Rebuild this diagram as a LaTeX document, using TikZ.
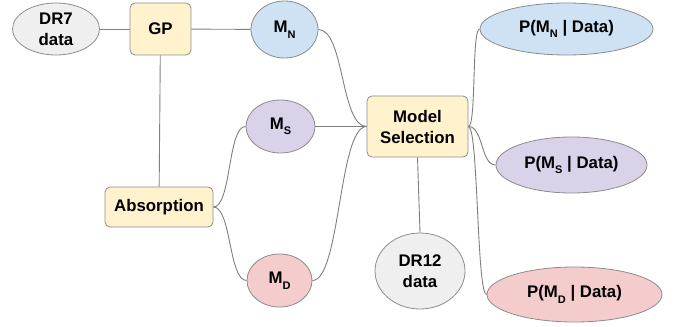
\documentclass[tikz,border=0pt]{standalone}
\usepackage{fontspec}
\setmainfont{Liberation Sans}
\usetikzlibrary{shapes.geometric}

\definecolor{greyfill}{HTML}{EFEFEF}
\definecolor{yellowfill}{HTML}{FFF2CC}
\definecolor{bluefill}{HTML}{CFE2F3}
\definecolor{purplefill}{HTML}{D9D2E9}
\definecolor{pinkfill}{HTML}{F4CCCC}
\definecolor{edgegrey}{HTML}{8C8C8C}
\definecolor{linkgrey}{HTML}{7F7F7F}

% small lowered index, as in M_N
\newcommand{\lowidx}[1]{\raisebox{-5.5pt}{\fontsize{11}{11}\selectfont #1}}

\tikzset{
  base/.style={draw=edgegrey, line width=0.8pt, align=center, inner sep=0pt,
               font=\fontsize{16.8}{21}\selectfont\bfseries},
  oval/.style={base, ellipse},
  box/.style={base, rectangle, rounded corners=5pt, fill=yellowfill},
  link/.style={draw=linkgrey, line width=0.9pt},
}

\begin{document}
\begin{tikzpicture}[x=1pt, y=-1pt]
  \useasboundingbox (0,0) rectangle (676,326);

  % inputs and processing steps
  \node[oval, fill=greyfill, minimum width=87pt, minimum height=52pt] (dr7) at (56,29) {DR7\\data};
  \node[box, minimum width=61pt, minimum height=52pt] (gp) at (160.5,29) {GP};
  \node[box, minimum width=108pt, minimum height=40pt] (abs) at (159,207) {Absorption};

  % models
  \node[oval, fill=bluefill, minimum width=67pt, minimum height=57pt] (mn) at (284.5,29.5) {M\lowidx{N}};
  \node[oval, fill=purplefill, minimum width=69pt, minimum height=53pt] (ms) at (280.5,126.5) {M\lowidx{S}};
  \node[oval, fill=pinkfill, minimum width=65pt, minimum height=53pt] (md) at (279.5,280.5) {M\lowidx{D}};

  % selection and its data
  \node[box, minimum width=101pt, minimum height=61pt] (sel) at (417.5,126.5) {Model\\Selection};
  \node[oval, fill=greyfill, minimum width=90pt, minimum height=76pt] (dr12) at (420,271) {DR12\\data};

  % posteriors
  \node[oval, fill=bluefill, minimum width=173pt, minimum height=52pt] (pn) at (566.5,29) {P(M\lowidx{N} | Data)};
  \node[oval, fill=purplefill, minimum width=151pt, minimum height=56pt] (ps) at (571.5,165) {P(M\lowidx{S} | Data)};
  \node[oval, fill=pinkfill, minimum width=175pt, minimum height=55pt] (pd) at (574.5,294.5) {P(M\lowidx{D} | Data)};

  % straight connectors
  \draw[link] (dr7) -- (gp);
  \draw[link] (gp) -- (mn);
  \draw[link] (gp) -- (abs);
  \draw[link] (ms) -- (sel);
  \draw[link] (sel.south) -- (dr12.north);

  % curved connectors
  \draw[link] (abs.east) .. controls +(18,0) and +(-18,0) .. (ms.west);
  \draw[link] (abs.east) .. controls +(18,0) and +(-18,0) .. (md.west);
  \draw[link] (mn.east) .. controls +(26,0) and +(-26,0) .. (sel.west);
  \draw[link] (md.east) .. controls +(28,0) and +(-28,0) .. (sel.west);
  \draw[link] (sel.east) .. controls +(8,0) and +(-8,0) .. (pn.west);
  \draw[link] (sel.east) .. controls +(15,0) and +(-15,0) .. (ps.west);
  \draw[link] (sel.east) .. controls +(10,0) and +(-10,0) .. (pd.west);
\end{tikzpicture}
\end{document}
